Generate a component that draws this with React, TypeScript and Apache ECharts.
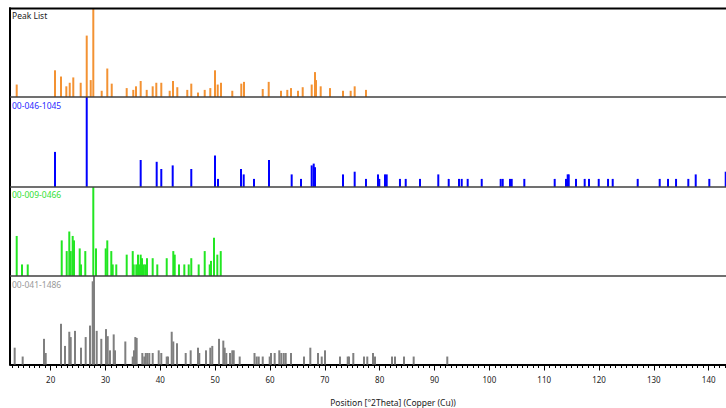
import React, { useEffect, useRef } from 'react';
import * as echarts from 'echarts';

// [position °2θ, relative intensity %]
const peakList: number[][] = [
    [13.8, 14], [20.78, 30], [21.88, 23], [22.85, 12], [23.47, 16], [24.12, 22], [25.47, 16],
    [26.57, 69], [27.3, 19], [27.77, 100], [29.3, 7], [30.32, 32], [31.13, 15], [33.86, 10],
    [35.06, 8], [35.56, 12], [36.41, 18], [37.51, 8], [38.6, 12], [39.26, 16], [40.17, 16],
    [41.7, 7], [42.31, 18], [43.09, 11], [44.91, 8], [45.64, 15], [46.86, 5], [48.09, 8],
    [49.11, 10], [49.97, 30], [50.46, 14], [51.06, 16], [53.12, 7], [54.76, 15], [55.25, 17],
    [58.67, 9], [59.76, 17], [62.0, 7], [63.15, 8], [63.83, 10], [65.1, 7], [65.96, 11],
    [67.6, 14], [68.2, 28], [68.39, 19], [69.24, 12], [70.94, 10], [73.31, 7], [74.71, 7],
    [75.44, 12], [77.5, 8],
];

const ref1045: number[][] = [
    [20.78, 39], [26.57, 100], [36.41, 30], [39.33, 28], [40.17, 20], [42.25, 24], [45.64, 20],
    [49.97, 35], [50.51, 9], [54.71, 20], [55.2, 14], [57.08, 9], [59.81, 30], [63.95, 14],
    [65.65, 9], [67.6, 24], [67.97, 26], [68.2, 22], [73.31, 14], [75.44, 17], [77.5, 9],
    [79.69, 14], [79.93, 9], [80.97, 14], [81.28, 14], [83.7, 9], [84.75, 9], [87.35, 9],
    [90.69, 14], [92.59, 9], [94.47, 9], [94.96, 9], [96.05, 9], [98.61, 9], [102.07, 9],
    [102.44, 9], [103.77, 9], [104.08, 9], [106.38, 9], [111.92, 9], [113.98, 9], [114.29, 14],
    [114.48, 14], [115.81, 9], [117.39, 9], [118.18, 9], [119.95, 9], [121.65, 9], [122.5, 9],
    [127.06, 9], [131.07, 9], [132.59, 9], [134.05, 9], [136.29, 9], [137.64, 14], [140.12, 9],
    [143.11, 17],
];

const ref0466: number[][] = [
    [13.8, 45], [14.77, 13], [15.81, 13], [22.01, 40], [22.92, 28], [23.39, 50], [23.65, 28],
    [24.01, 45], [24.25, 40], [25.29, 31], [25.53, 13], [26.31, 28], [27.77, 100], [28.26, 31],
    [30.03, 31], [30.32, 40], [31.05, 28], [31.31, 13], [31.96, 13], [33.86, 24], [34.96, 28],
    [35.14, 13], [35.61, 13], [35.92, 24], [36.16, 13], [36.41, 24], [36.65, 20], [36.96, 13],
    [37.25, 13], [37.56, 20], [38.6, 20], [39.44, 13], [41.16, 20], [42.36, 28], [42.62, 24],
    [43.4, 13], [44.37, 13], [45.17, 13], [45.64, 20], [46.99, 13], [48.09, 28], [49.0, 13],
    [49.24, 17], [49.78, 43], [50.39, 24], [51.01, 28],
];

const ref1486: number[][] = [
    [13.43, 19], [14.89, 9], [18.78, 29], [19.09, 13], [21.88, 46], [22.61, 21], [23.39, 37],
    [23.65, 31], [24.43, 38], [25.53, 19], [26.38, 31], [27.17, 44], [27.66, 94], [27.9, 100],
    [28.39, 38], [29.23, 29], [30.09, 40], [30.4, 32], [30.82, 16], [31.49, 34], [31.73, 16],
    [33.61, 26], [34.96, 9], [35.19, 16], [35.43, 31], [35.68, 30], [36.71, 13], [37.07, 9],
    [37.33, 13], [37.62, 13], [37.98, 13], [38.6, 13], [39.7, 16], [40.17, 13], [41.16, 9],
    [41.39, 9], [42.07, 37], [42.36, 26], [43.03, 24], [44.62, 13], [45.53, 16], [46.86, 19],
    [47.1, 13], [48.32, 16], [49.11, 19], [49.47, 21], [50.7, 29], [51.48, 27], [51.73, 19],
    [52.03, 13], [52.7, 13], [53.12, 16], [53.38, 16], [54.47, 9], [57.17, 13], [57.57, 9],
    [57.94, 9], [58.67, 9], [59.94, 9], [60.18, 13], [60.85, 13], [61.69, 16], [62.06, 13],
    [62.5, 13], [62.86, 13], [63.83, 13], [66.2, 9], [67.35, 19], [68.75, 13], [69.43, 9],
    [70.03, 16], [72.76, 9], [74.17, 9], [74.4, 9], [75.19, 13], [77.14, 9], [77.74, 9],
    [78.78, 13], [79.15, 9], [82.25, 9], [82.79, 9], [84.44, 9], [86.2, 9], [92.33, 9],
];

const panelNames = ['Peak List', '00-046-1045', '00-009-0466', '00-041-1486'];
const panelData = [peakList, ref1045, ref0466, ref1486];
const barColors = ['#f39233', '#0000ff', '#22e622', '#7f7f7f'];
const labelColors = ['#222222', '#2a2aff', '#33e033', '#999999'];

const FONT = '"Noto Sans", "Open Sans", sans-serif';

// the chart div is wider than the window and shifted left by OFF, so the
// axis can run from 10° to 150° with only 12.6°..143° visible
const OFF = 60;
const CHART_W = 826;
const panelTops = [8, 97, 187, 276];
const panelHeights = [89, 90, 89, 88.5];
const pxPerDeg = 5.483;
const gridLeft = OFF + 50.7 - 10 * pxPerDeg;
const gridWidth = 140 * pxPerDeg;

const XrdChart: React.FC = () => {
    const chartRef = useRef<HTMLDivElement | null>(null);

    useEffect(() => {
        if (!chartRef.current) return;
        const chart = echarts.init(chartRef.current, undefined, { renderer: 'svg' });

        const grids = panelTops.map((top, i) => ({
            left: gridLeft,
            width: gridWidth,
            top,
            height: panelHeights[i],
        }));

        const xAxes = panelTops.map((_, i) => {
            const last = i === panelTops.length - 1;
            return {
                type: 'value',
                gridIndex: i,
                min: 10,
                max: 150,
                interval: 10,
                show: last,
                axisLine: { show: last, lineStyle: { color: '#000', width: 2 } },
                axisTick: { show: last, length: 6, lineStyle: { color: '#000', width: 1 } },
                minorTick: { show: last, splitNumber: 10, length: 3.5, lineStyle: { color: '#000', width: 1 } },
                axisLabel: {
                    show: last,
                    showMinLabel: false,
                    showMaxLabel: false,
                    margin: 11,
                    color: '#222',
                    fontSize: 8,
                    fontFamily: FONT,
                },
                splitLine: { show: false },
            };
        });

        const yAxes = panelTops.map((_, i) => ({
            type: 'value',
            gridIndex: i,
            min: 0,
            max: 100,
            show: false,
        }));

        const series = panelData.map((data, i) => ({
            type: 'bar',
            name: panelNames[i],
            xAxisIndex: i,
            yAxisIndex: i,
            data,
            barWidth: 2,
            itemStyle: { color: barColors[i] },
        }));

        const labelY = [15.5, 105.3, 194.2, 284];
        const texts = panelNames.map((name, i) => ({
            type: 'text',
            x: OFF + 12,
            y: labelY[i],
            z: 110,
            style: {
                text: name,
                fill: labelColors[i],
                font: `8.5px ${FONT}`,
                verticalAlign: 'middle',
            },
        }));

        const separators = [97, 187, 276].map((y) => ({
            type: 'line',
            z: 105,
            shape: { x1: OFF + 10, y1: y, x2: OFF + 726, y2: y },
            style: { stroke: '#404040', lineWidth: 1.5 },
        }));

        const option = {
            animation: false,
            backgroundColor: '#ffffff',
            grid: grids,
            xAxis: xAxes,
            yAxis: yAxes,
            series,
            graphic: [
                // mask off the axis stub left of the frame
                {
                    type: 'rect',
                    z: 100,
                    shape: { x: 0, y: 0, width: OFF + 9.5, height: 408 },
                    style: { fill: '#ffffff' },
                },
                {
                    type: 'line',
                    z: 105,
                    shape: { x1: OFF + 10, y1: 7.5, x2: OFF + 10, y2: 365.5 },
                    style: { stroke: '#000', lineWidth: 2 },
                },
                {
                    type: 'line',
                    z: 105,
                    shape: { x1: OFF + 9, y1: 8.5, x2: OFF + 726, y2: 8.5 },
                    style: { stroke: '#000', lineWidth: 2 },
                },
                ...separators,
                ...texts,
                {
                    type: 'text',
                    x: OFF + 393,
                    y: 402.5,
                    z: 110,
                    style: {
                        text: 'Position [°2Theta] (Copper (Cu))',
                        fill: '#222',
                        font: `8.5px ${FONT}`,
                        align: 'center',
                        verticalAlign: 'middle',
                    },
                },
            ],
        };

        chart.setOption(option);

        return () => {
            chart.dispose();
        };
    }, []);

    return (
        <div
            ref={chartRef}
            style={{ position: 'fixed', left: -OFF, top: 0, width: CHART_W + 'px', height: '408px' }}
        />
    );
};

export default function App() {
    return <XrdChart />;
}
